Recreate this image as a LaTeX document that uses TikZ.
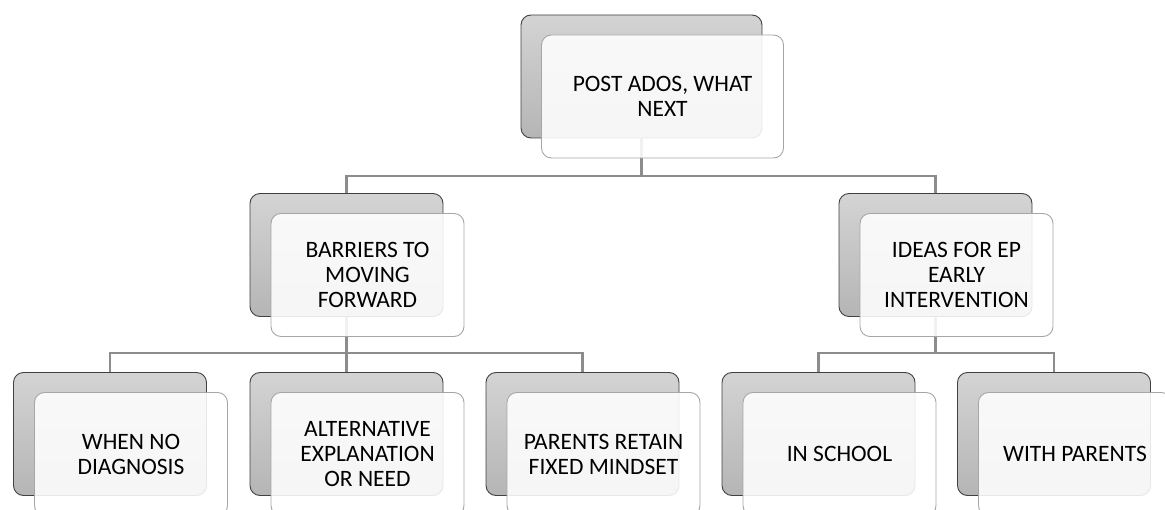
\documentclass[tikz,border=0pt]{standalone}
\usepackage{fontspec}
\setmainfont{Carlito}
\usetikzlibrary{calc}
\definecolor{backedge}{HTML}{404040}
\definecolor{frontedge}{HTML}{A6A6A6}
\definecolor{conncol}{HTML}{8C8C8C}
\tikzset{
  backbox/.style={draw=backedge, line width=0.9pt, rounded corners=10pt,
    top color=black!17, bottom color=black!29,
    minimum width=193pt, minimum height=123pt, inner sep=0pt},
  frontbox/.style={draw=frontedge, line width=0.9pt, rounded corners=10pt,
    fill=white, fill opacity=0.88, text opacity=1,
    minimum width=193pt, minimum height=123pt, inner sep=0pt,
    align=center, font=\fontsize{23.5}{25}\selectfont},
  conn/.style={draw=conncol, line width=2.8pt}
}
\begin{document}
\begin{tikzpicture}[x=1pt,y=-1pt]
\useasboundingbox (0,0) rectangle (1165,510);
\clip (0,0) rectangle (1165,510);
% back boxes
\node[backbox, minimum width=241pt] (t) at (641.5,76.5) {};
\node[backbox] (ml) at (346.5,255) {};
\node[backbox] (mr) at (935.5,255) {};
\node[backbox] (b1) at (110,434) {};
\node[backbox] (b2) at (346.5,434) {};
\node[backbox] (b3) at (582.5,434) {};
\node[backbox] (b4) at (818.5,434) {};
\node[backbox] (b5) at (1054,434) {};
% connectors
\draw[conn] (ml.north) -- ++(0,-17) -| (t.south);
\draw[conn] (mr.north) -- ++(0,-17) -| (t.south);
\draw[conn] (b1.north) -- ++(0,-19) -| (ml.south);
\draw[conn] (b2.north) -- (ml.south);
\draw[conn] (b3.north) -- ++(0,-19) -| (ml.south);
\draw[conn] (b4.north) -- ++(0,-19) -| (mr.south);
\draw[conn] (b5.north) -- ++(0,-19) -| (mr.south);
% front boxes
\node[frontbox, minimum width=242pt] (tf) at ($(t)+(21,20)$) {POST ADOS, WHAT\\NEXT};
\node[frontbox] (mlf) at ($(ml)+(21,20)$) {BARRIERS TO\\MOVING\\FORWARD};
\node[frontbox] (mrf) at ($(mr)+(21,20)$) {IDEAS FOR EP\\EARLY\\INTERVENTION};
\node[frontbox] (b1f) at ($(b1)+(21,20)$) {WHEN NO\\DIAGNOSIS};
\node[frontbox] (b2f) at ($(b2)+(21,20)$) {ALTERNATIVE\\EXPLANATION\\OR NEED};
\node[frontbox] (b3f) at ($(b3)+(21,20)$) {PARENTS RETAIN\\FIXED MINDSET};
\node[frontbox] (b4f) at ($(b4)+(21,20)$) {IN SCHOOL};
\node[frontbox] (b5f) at ($(b5)+(21,20)$) {WITH PARENTS};
\end{tikzpicture}
\end{document}
